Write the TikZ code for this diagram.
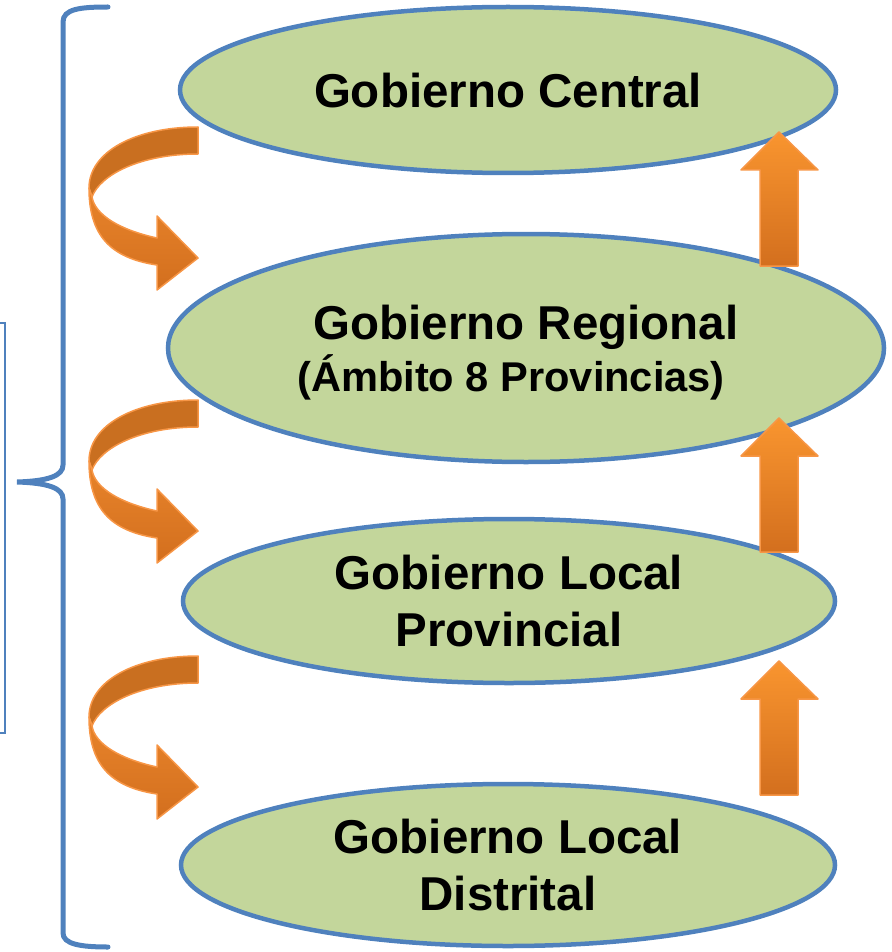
\documentclass[tikz,border=0pt]{standalone}
\usepackage{fontspec}
\setmainfont{Liberation Sans}
\usetikzlibrary{shapes.geometric}
\definecolor{leafgreen}{HTML}{C3D69B}
\definecolor{rimblue}{HTML}{4F81BD}
\definecolor{backorange}{HTML}{C96F20}
\definecolor{frontorange}{HTML}{E8842B}
\definecolor{deeporange}{HTML}{D36F1E}
\definecolor{brightorange}{HTML}{F9952F}
\definecolor{edgeorange}{HTML}{F79646}
\tikzset{
	govt/.style={ellipse, draw=rimblue, fill=leafgreen, line width=4.5pt, inner sep=0pt,
		align=center, text depth=0pt, font=\bfseries\fontsize{47.5}{57}\selectfont},
	brace/.style={draw=rimblue, line width=5pt, line cap=round},
	orangeedge/.style={draw=edgeorange, line width=1.5pt, line join=round}
}
\def\liftarrow(#1){\shadedraw[orangeedge, top color=brightorange, bottom color=deeporange] (760,#1+134) -- (760,#1+38) -- (741,#1+38) -- (779,#1) -- (818,#1+38) -- (798,#1+38) -- (798,#1+134) -- cycle;}
\def\turnarrow(#1){
	\begin{scope}[shift={(0,#1)}]
		\filldraw[orangeedge, fill=backorange] (198,127) .. controls (135,127) and (89,152) .. (89,188) -- (92,197) .. controls (100,175) and (140,154) .. (198,154) -- cycle;
		\shadedraw[orangeedge, top color=frontorange, bottom color=deeporange] (89,188) .. controls (89,235) and (110,258) .. (157,265) -- (157,290) -- (198,258) -- (157,216) -- (157,238) .. controls (120,230) and (95,215) .. (92,197) -- cycle;
	\end{scope}
}

\begin{document}
\begin{tikzpicture}[x=1pt, y=-1pt]
		\useasboundingbox (0,0) rectangle (891,952);
		
		% left frame and brace
		\draw[rimblue, line width=1.5pt] (-10,323) rectangle (5,733);
		\draw[brace] (108,7) .. controls (80,7) and (63,9) .. (63,22) -- (63,465) .. controls (63,476) and (48,481) .. (17,482) .. controls (48,483) and (63,488) .. (63,499) -- (63,933) .. controls (63,944) and (80,947) .. (108,947);
		
		% levels
		\node[govt, minimum width=656pt, minimum height=166pt] (central) at (508,90) {Gobierno Central};
		\node[govt, minimum width=716pt, minimum height=228pt] (regional) at (526,348) {Gobierno Regional\\[-5pt]{\fontsize{41.6}{50}\selectfont (Ámbito 8 Provincias)\hspace*{30pt}}};
		\node[govt, minimum width=652pt, minimum height=164pt] (provincial) at (509,601) {Gobierno Local\\Provincial};
		\node[govt, minimum width=654pt, minimum height=162pt] (distrital) at (508,865) {Gobierno Local\\Distrital};
		
		% downward turns
		\turnarrow(0)
		\turnarrow(273)
		\turnarrow(529)
		
		% upward arrows
		\liftarrow(132)
		\liftarrow(418)
		\liftarrow(661)
		
\end{tikzpicture}
\end{document}
